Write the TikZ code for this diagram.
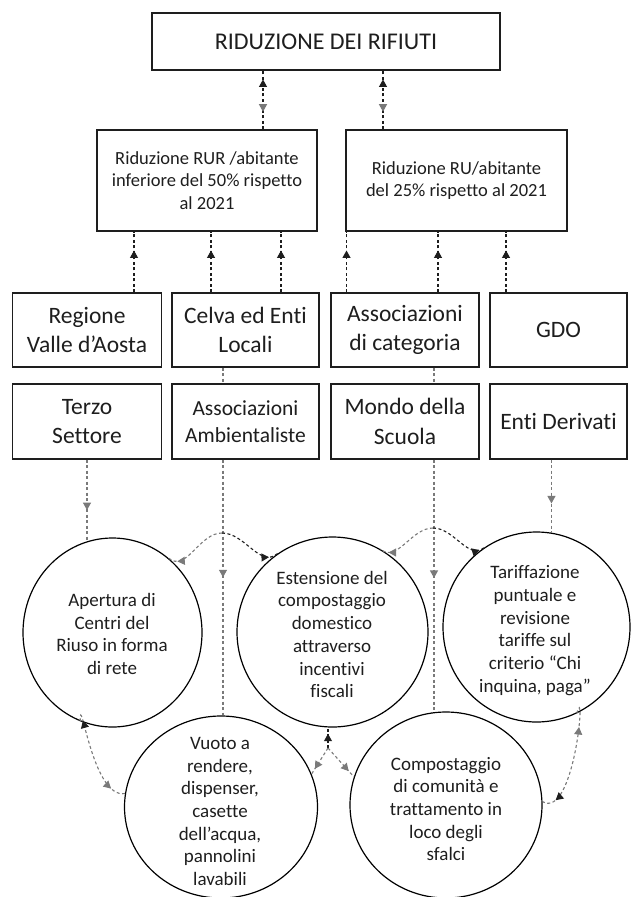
\documentclass[tikz,border=0pt]{standalone}
\usepackage{fontspec}
\setmainfont[Ligatures=NoCommon]{Carlito}
\usetikzlibrary{arrows.meta,decorations.markings,calc,shapes.geometric}
\definecolor{ink}{HTML}{1E1E1E}
\definecolor{gry}{HTML}{7A7A7A}
\tikzset{
  bk/.tip={Triangle[width=8pt,length=7.5pt,color=ink]},
  gy/.tip={Triangle[width=8pt,length=7.5pt,color=gry]},
  box/.style={draw=ink, line width=1.3pt, fill=white, inner sep=0pt, align=center, text=ink},
  big/.style={font=\fontsize{23.5}{29.5}\selectfont},
  mid/.style={font=\fontsize{18.5}{22.5}\selectfont},
  bub/.style={draw=black, line width=1.2pt, ellipse, inner sep=0pt},
  btxt/.style={align=center, text=ink, inner sep=0pt, font=\fontsize{19}{22.7}\selectfont},
  dk/.style={draw=ink, line width=1.1pt, dash pattern=on 3pt off 2.5pt},
  gl/.style={draw=gry, line width=1.1pt, dash pattern=on 3pt off 2.5pt},
  mk/.style 2 args={postaction={decorate,decoration={markings,mark=at position #1 with {\arrow{#2}}}}},
  mkr/.style 2 args={postaction={decorate,decoration={markings,mark=at position #1 with {\arrowreversed{#2}}}}}
}
\begin{document}
\begin{tikzpicture}[x=1pt,y=-1pt]
\useasboundingbox (0,0) rectangle (630,897);
% columns
\coordinate (t1) at (263,0);
\coordinate (t2) at (383,0);
\coordinate (u1) at (134,0);
\coordinate (u2) at (211,0);
\coordinate (u3) at (281,0);
\coordinate (u4) at (346.5,0);
\coordinate (u5) at (438,0);
\coordinate (u6) at (506,0);
\coordinate (v1) at (223,0);
\coordinate (v2) at (434,0);
% boxes
\node[box, minimum width=348pt, minimum height=57pt, font=\fontsize{24}{28}\selectfont] (top) at (326,41.5) {RIDUZIONE DEI RIFIUTI};
\node[box, mid, minimum width=220pt, minimum height=101pt] (ga) at (207,180.5) {Riduzione RUR /abitante\\inferiore del 50\% rispetto\\al 2021};
\node[box, mid, minimum width=221pt, minimum height=101pt] (gb) at (456.5,180.5) {Riduzione RU/abitante\\del 25\% rispetto al 2021};
\node[box, big, minimum width=149pt, minimum height=74pt] (ra) at (87,330) {Regione\\Valle d’Aosta};
\node[box, big, minimum width=147pt, minimum height=74pt] (rb) at (245.5,330) {Celva ed Enti\\Locali};
\node[box, big, minimum width=148pt, minimum height=74pt] (rc) at (405,330) {Associazioni\\di categoria};
\node[box, big, minimum width=137pt, minimum height=74pt] (rd) at (558.5,330) {GDO};
\node[box, big, minimum width=149pt, minimum height=75pt] (sa) at (87,421.5) {Terzo\\Settore};
\node[box, minimum width=147pt, minimum height=75pt, font=\fontsize{21.5}{27}\selectfont] (sb) at (245.5,421.5) {Associazioni\\Ambientaliste};
\node[box, big, minimum width=148pt, minimum height=75pt] (sc) at (405,421.5) {Mondo della\\Scuola};
\node[box, big, minimum width=137pt, minimum height=75pt] (sd) at (558.5,421.5) {Enti Derivati};
% circles
\node[bub, minimum width=179pt, minimum height=189pt] (c1) at (112.5,632.5) {};
\node[bub, minimum width=191pt, minimum height=190pt] (c2) at (332.5,632) {};
\node[bub, minimum width=187pt, minimum height=190pt] (c3) at (536.5,627) {};
\node[bub, minimum width=193pt, minimum height=182pt] (c4) at (221,807) {};
\node[bub, minimum width=192pt, minimum height=186pt] (c5) at (446,805) {};
\node[btxt] (c1t) at (112,634) {Apertura di\\Centri del\\Riuso in forma\\di rete};
\node[btxt] (c2t) at (332,634.5) {Estensione del\\compostaggio\\domestico\\attraverso\\incentivi\\fiscali};
\node[btxt] (c3t) at (535,630.5) {Tariffazione\\puntuale e\\revisione\\tariffe sul\\criterio “Chi\\inquina, paga”};
\node[btxt] (c4t) at (220,811.5) {Vuoto a\\rendere,\\dispenser,\\casette\\dell’acqua,\\pannolini\\lavabili};
\node[btxt] (c5t) at (446,809) {Compostaggio\\di comunità e\\trattamento in\\loco degli\\sfalci};
% row2 -> top
\draw[dk, mk={0.85}{bk}, mkr={0.3}{gy}] (ga.north -| t1) -- (top.south -| t1);
\draw[dk, mk={0.85}{bk}, mkr={0.3}{gy}] (gb.north -| t2) -- (top.south -| t2);
% row3 -> row2
\draw[dk, mk={0.69}{bk}] (ra.north -| u1) -- (ga.south -| u1);
\draw[dk, mk={0.69}{bk}] (rb.north -| u2) -- (ga.south -| u2);
\draw[dk, mk={0.69}{bk}] (rb.north -| u3) -- (ga.south -| u3);
\draw[dk, mk={0.69}{bk}] (rc.north -| u4) -- (gb.south -| u4);
\draw[dk, mk={0.69}{bk}] (rc.north -| u5) -- (gb.south -| u5);
\draw[dk, mk={0.69}{bk}] (rd.north -| u6) -- (gb.south -| u6);
% row3 -> row4 -> circles
\draw[gl] (rb.south -| v1) -- (sb.north -| v1);
\draw[gl, mk={0.46}{gy}] (sb.south -| v1) -- (c4.north -| v1);
\draw[gl] (rc.south -| v2) -- (sc.north -| v2);
\draw[gl, mk={0.47}{gy}] (sc.south -| v2) -- (c5.north -| v2);
\draw[gl, mk={0.62}{gy}] (sa.south) -- (sa.south |- c1.105);
\draw[gl, mk={0.6}{gy}] (sd.south -| c3.81) -- (c3.81);
% arcs between circles
\coordinate (ap1) at (222,533);
\coordinate (ap2) at (433,528);
\draw[gl, mk={0.85}{gy}] (ap1) to[out=180,in=-40] (c1.53);
\draw[dk, mk={0.85}{bk}] (ap1) to[out=0,in=-140] (c2.125);
\draw[gl, mk={0.85}{gy}] (ap2) to[out=180,in=-40] (c2.60);
\draw[dk, mk={0.9}{bk}] (ap2) to[out=0,in=-140] (c3.123);
\draw[gl, mkr={0.12}{bk}, mk={0.85}{gy}] (c1.250) to[out=90,in=-170] (c4.172);
\draw[gl, mkr={0.22}{gy}, mk={0.88}{bk}] (c3.295) to[out=75,in=-30] (c5.2);
% junction below C2
\coordinate (j) at (328,748);
\draw[dk, mk={0.7}{bk}] (j) -- (c2.south -| j);
\draw[gl, mk={0.8}{gy}] (j) -- (c4.20);
\draw[gl, mk={0.8}{gy}] (j) -- (c5.163);
\end{tikzpicture}
\end{document}
